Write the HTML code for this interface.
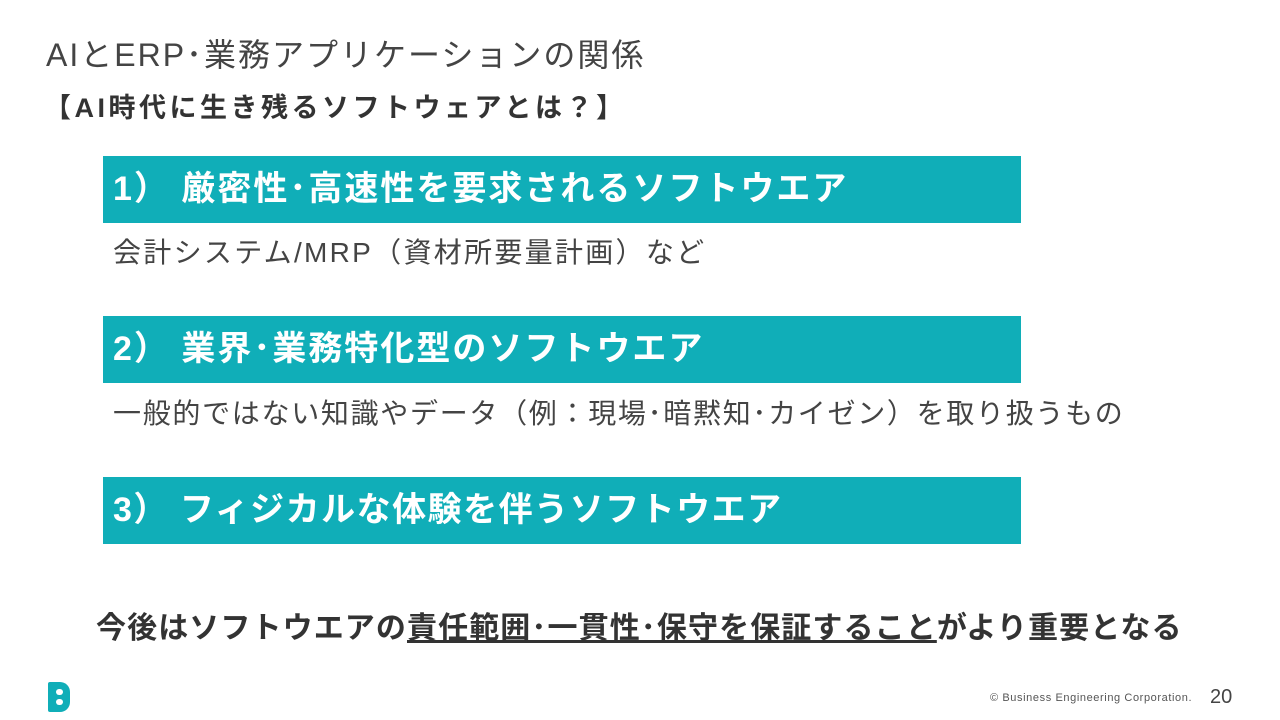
<!DOCTYPE html>
<html><head><meta charset="utf-8"><style>
body{margin:0;width:1280px;height:720px;background:#fff;position:relative;overflow:hidden;font-family:"Liberation Sans","Noto Sans CJK JP",sans-serif;color:#333}
.a{position:absolute;white-space:nowrap}
.box{position:absolute;left:103px;width:918px;height:67px;background:#10aeb8;color:#fff;font-weight:bold;font-size:34px;line-height:67px;padding-left:10px;box-sizing:border-box;letter-spacing:2px}
.sub{font-size:28px;color:#444;letter-spacing:1.5px}
</style></head><body>
<div class="a" style="left:46px;top:30px;font-size:32px;color:#444;letter-spacing:2px">AIとERP･業務アプリケーションの関係</div>
<div class="a" style="left:44px;top:86px;font-size:27px;font-weight:bold;letter-spacing:3.5px">【AI時代に生き残るソフトウェアとは？】</div>
<div class="box" style="top:156px">1）&nbsp;厳密性･高速性を要求されるソフトウエア</div>
<div class="a sub" style="left:113px;top:231px;letter-spacing:2.3px">会計システム/MRP（資材所要量計画）など</div>
<div class="box" style="top:316px">2）&nbsp;業界･業務特化型のソフトウエア</div>
<div class="a sub" style="left:113px;top:392px;letter-spacing:1.7px">一般的ではない知識やデータ（例：現場･暗黙知･カイゼン）を取り扱うもの</div>
<div class="box" style="top:477px;letter-spacing:1.5px">3）&nbsp;フィジカルな体験を伴うソフトウエア</div>
<div class="a" style="left:96px;top:603px;font-size:30px;font-weight:bold;letter-spacing:1.1px">今後はソフトウエアの<u>責任範囲･一貫性･保守を保証すること</u>がより重要となる</div>
<div class="a" style="left:48px;top:682px;width:22px;height:30px;background:#10aeb8;border-radius:2px 10px 10px 2px"></div>
<div class="a" style="left:56px;top:689px;width:7px;height:6px;background:#fff;border-radius:3px"></div>
<div class="a" style="left:56px;top:699px;width:7px;height:6px;background:#fff;border-radius:3px"></div>
<div class="a" style="left:990px;top:692px;font-size:11px;color:#555;letter-spacing:0.6px">© Business Engineering Corporation.</div>
<div class="a" style="left:1210px;top:686px;font-size:20px;color:#444">20</div>
</body></html>
